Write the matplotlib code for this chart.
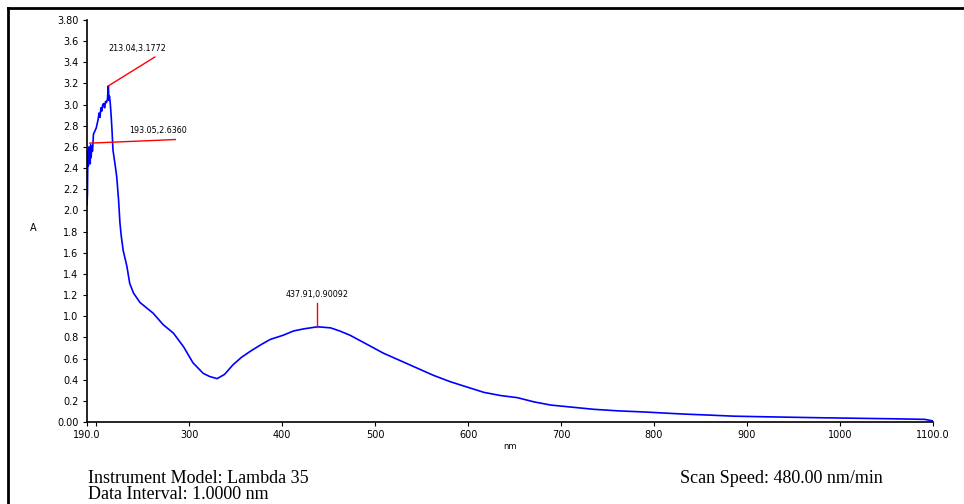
import numpy as np
import matplotlib.pyplot as plt
from matplotlib.lines import Line2D

# spectrum (nm, absorbance)
wavelength = [190, 190.5, 191, 191.5, 192, 192.5, 193, 193.5, 194, 194.5, 195, 196, 197,
              198, 199, 200, 201, 202, 203, 204, 205, 206, 207, 208, 209, 210, 211, 212,
              213.04, 213.6, 214.2, 215, 216, 217, 218, 220, 222, 224, 225.5, 227, 229,
              233, 236, 240, 247, 254, 261, 272, 283, 294, 304, 315, 322, 330, 338, 347,
              356, 366, 377, 387, 401, 412, 423, 438, 452, 462, 473, 490, 509, 527, 545,
              563, 581, 599, 617, 635, 653, 671, 689, 712, 735, 762, 789, 810, 832, 860,
              886, 915, 947, 980, 1020, 1060, 1091, 1100]
absorbance = [2.05, 2.15, 2.56, 2.42, 2.60, 2.47, 2.58, 2.44, 2.62, 2.50, 2.58, 2.56, 2.72,
              2.74, 2.76, 2.78, 2.82, 2.86, 2.92, 2.88, 2.97, 2.94, 3.00, 3.01, 2.97, 3.03,
              3.02, 3.05, 3.1772, 3.04, 3.08, 3.02, 2.90, 2.75, 2.57, 2.45, 2.32, 2.10,
              1.88, 1.75, 1.62, 1.47, 1.31, 1.22, 1.13, 1.08, 1.03, 0.92, 0.84, 0.71, 0.56,
              0.46, 0.43, 0.41, 0.45, 0.54, 0.61, 0.67, 0.73, 0.78, 0.82, 0.86, 0.88, 0.90,
              0.89, 0.86, 0.82, 0.74, 0.65, 0.58, 0.51, 0.44, 0.38, 0.33, 0.28, 0.25, 0.23,
              0.19, 0.16, 0.14, 0.12, 0.105, 0.095, 0.085, 0.075, 0.065, 0.055, 0.05, 0.045,
              0.04, 0.035, 0.03, 0.025, 0.01]

# peak picks: (x, y, label, line end x, line end y)
peaks = [
    (213.04, 3.1772, "213.04,3.1772", 263, 3.45),
    (193.05, 2.6360, "193.05,2.6360", 285, 2.67),
    (437.91, 0.90092, "437.91,0.90092", 437.91, 1.125),
]

x_ticks = [190, 200, 300, 400, 500, 600, 700, 800, 900, 1000, 1100]
x_labels = ["190.0", "", "300", "400", "500", "600", "700", "800", "900", "1000", "1100.0"]
y_ticks = [0.0, 0.2, 0.4, 0.6, 0.8, 1.0, 1.2, 1.4, 1.6, 1.8, 2.0, 2.2, 2.4, 2.6, 2.8,
           3.0, 3.2, 3.4, 3.6, 3.8]
y_labels = ["0.00"] + [f"{v:.1f}" for v in y_ticks[1:-1]] + ["3.80"]

fig = plt.figure(figsize=(9.64, 5.04), dpi=100)
ax = fig.add_axes([0.0902, 0.1627, 0.8776, 0.7976])

ax.plot(wavelength, absorbance, color="#0000ff", lw=1.2)

for px, py, txt, ex, ey in peaks:
    ax.plot([px, ex], [py, ey], color="#ff0000", lw=1)
    if ex == px:
        ax.text(ex, ey + 0.04, txt, fontsize=5.8, ha="center", va="bottom")
    else:
        ax.text(ex - 50, ey + 0.04, txt, fontsize=5.8, ha="left", va="bottom")

ax.set_xlim(190, 1100)
ax.set_ylim(0, 3.8)
ax.set_xticks(x_ticks)
ax.set_xticklabels(x_labels)
ax.set_yticks(y_ticks)
ax.set_yticklabels(y_labels)
ax.tick_params(axis="both", labelsize=7, length=3, width=0.8, pad=3)
for s in ["top", "right"]:
    ax.spines[s].set_visible(False)
for s in ["left", "bottom"]:
    ax.spines[s].set_linewidth(1.2)

ax.set_xlabel("nm", fontsize=6, labelpad=1)
ax.xaxis.set_label_coords(0.5, -0.05)
fig.text(33 / 964, 1 - 228 / 504, "A", fontsize=7, ha="center", va="center")

# outer frame (top and left only)
fig.add_artist(Line2D([8 / 964, 1], [1 - 8 / 504] * 2, color="black", lw=2))
fig.add_artist(Line2D([8 / 964] * 2, [0, 1 - 8 / 504], color="black", lw=2))

serif = {"family": "Liberation Serif", "size": 13}
fig.text(88 / 964, 1 - 483 / 504, "Instrument Model: Lambda 35", va="baseline", **serif)
fig.text(88 / 964, 1 - 499 / 504, "Data Interval: 1.0000 nm", va="baseline", **serif)
fig.text(680 / 964, 1 - 483 / 504, "Scan Speed: 480.00 nm/min", va="baseline", **serif)

fig.savefig("out.png", dpi=100)
